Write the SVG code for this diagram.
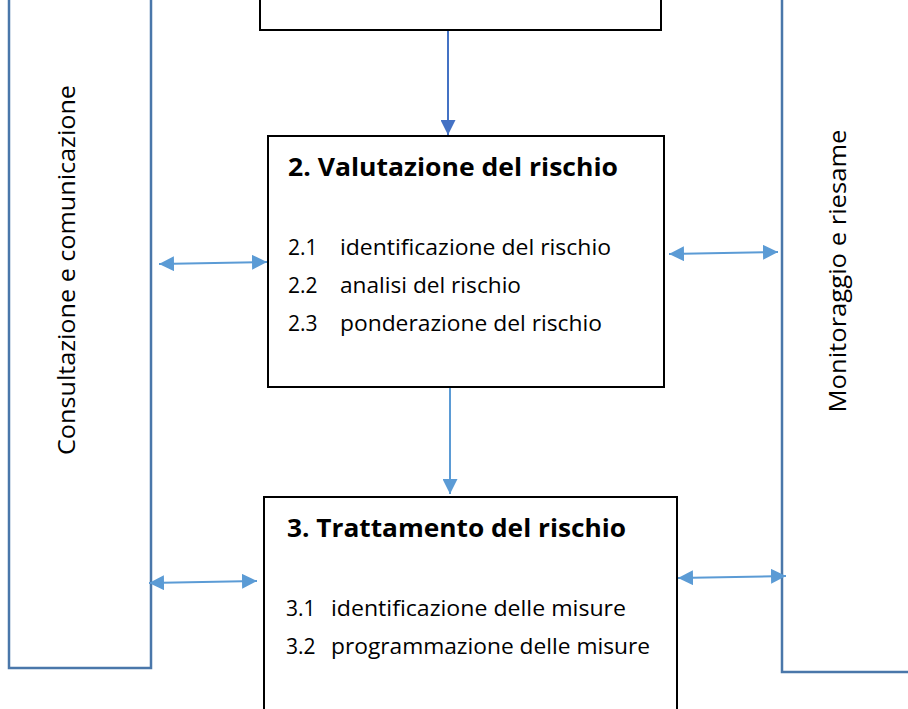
<svg xmlns="http://www.w3.org/2000/svg" width="908" height="709" viewBox="0 0 908 709">
<style>
.panel{fill:none;stroke:#4a77aa;stroke-width:2.5}
.box{fill:#fff;stroke:#000;stroke-width:2}
.t{font-family:"Open Sans","Liberation Sans",sans-serif;fill:#000}
.h{font-size:25px;font-weight:bold}
.i{font-size:21px}
.p{font-size:23px}
.c{fill:none;stroke:#5b9bd5;stroke-width:2}
</style>
<defs>
<marker id="ah" viewBox="0 0 10 10" refX="10" refY="5" markerWidth="7.5" markerHeight="7.5" orient="auto-start-reverse" markerUnits="strokeWidth">
<path d="M0,0 L10,5 L0,10 z" fill="#5b9bd5"/>
</marker>
<marker id="ahd" viewBox="0 0 10 10" refX="10" refY="5" markerWidth="7.5" markerHeight="7.5" orient="auto" markerUnits="strokeWidth">
<path d="M0,0 L10,5 L0,10 z" fill="#4472c4"/>
</marker>
</defs>
<g id="consultazione">
<polyline class="panel" points="9,-5 9,668 151,668 151,-5"/>
<text class="t p" transform="translate(75,270) rotate(-90)" text-anchor="middle" textLength="370" lengthAdjust="spacingAndGlyphs">Consultazione e comunicazione</text>
</g>
<g id="monitoraggio">
<polyline class="panel" points="915,672 782,672 782,-5"/>
<text class="t p" transform="translate(846,271) rotate(-90)" text-anchor="middle" textLength="283" lengthAdjust="spacingAndGlyphs">Monitoraggio e riesame</text>
</g>
<g id="box1">
<rect class="box" x="260" y="-10" width="401" height="40"/>
</g>
<g id="box2">
<rect class="box" x="268" y="136" width="396" height="251"/>
<text class="t h" x="288" y="176" textLength="330" lengthAdjust="spacingAndGlyphs">2. Valutazione del rischio</text>
<text class="t i" x="288" y="255">2.1</text>
<text class="t i" x="340" y="255" textLength="271" lengthAdjust="spacingAndGlyphs">identificazione del rischio</text>
<text class="t i" x="288" y="293">2.2</text>
<text class="t i" x="340" y="293" textLength="181" lengthAdjust="spacingAndGlyphs">analisi del rischio</text>
<text class="t i" x="288" y="331">2.3</text>
<text class="t i" x="340" y="331" textLength="262" lengthAdjust="spacingAndGlyphs">ponderazione del rischio</text>
</g>
<g id="box3">
<rect class="box" x="264" y="497" width="413" height="230"/>
<text class="t h" x="287" y="537" textLength="339" lengthAdjust="spacingAndGlyphs">3. Trattamento del rischio</text>
<text class="t i" x="286" y="616">3.1</text>
<text class="t i" x="331" y="616" textLength="295" lengthAdjust="spacingAndGlyphs">identificazione delle misure</text>
<text class="t i" x="286" y="654">3.2</text>
<text class="t i" x="331" y="654" textLength="319" lengthAdjust="spacingAndGlyphs">programmazione delle misure</text>
</g>
<g id="connectors">
<line x1="448" y1="31" x2="448" y2="135" stroke="#4472c4" stroke-width="2" marker-end="url(#ahd)"/>
<line class="c" x1="450" y1="388" x2="450" y2="494" marker-end="url(#ah)"/>
<line class="c" x1="159" y1="264" x2="267" y2="262" marker-start="url(#ah)" marker-end="url(#ah)"/>
<line class="c" x1="669" y1="254" x2="778" y2="252" marker-start="url(#ah)" marker-end="url(#ah)"/>
<line class="c" x1="149" y1="583" x2="257" y2="581" marker-start="url(#ah)" marker-end="url(#ah)"/>
<line class="c" x1="678" y1="578" x2="786" y2="576" marker-start="url(#ah)" marker-end="url(#ah)"/>
</g>
</svg>
